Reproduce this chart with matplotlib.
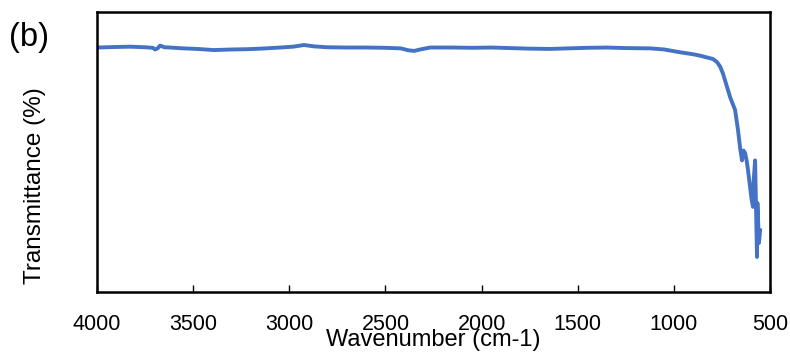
import matplotlib
matplotlib.use('Agg')
import matplotlib.pyplot as plt

plt.rcParams['font.family'] = ['Liberation Sans', 'DejaVu Sans']

# FTIR spectrum (wavenumber in cm-1, transmittance in arbitrary %)
wavenumber = [4000, 3900, 3828, 3750, 3710, 3698, 3685, 3672, 3650, 3620,
              3550, 3480, 3392, 3300, 3220, 3150, 3048, 2980, 2924, 2870,
              2804, 2700, 2600, 2500, 2420, 2380, 2350, 2320, 2268, 2150,
              2050, 1950, 1850, 1750, 1644, 1550, 1450, 1348, 1250, 1124,
              1050, 968, 900, 864, 797, 776, 760, 745, 708, 682,
              667, 655, 646, 638, 630, 622, 615, 604, 596, 589,
              585, 578, 573, 568, 566, 562, 558, 552]
transmittance = [87.3, 87.5, 87.6, 87.4, 87.2, 86.6, 87.0, 88.0, 87.4, 87.3,
                 87.0, 86.8, 86.4, 86.6, 86.7, 86.9, 87.3, 87.6, 88.2, 87.7,
                 87.4, 87.3, 87.3, 87.2, 87.0, 86.3, 86.1, 86.6, 87.3, 87.3,
                 87.2, 87.3, 87.1, 86.9, 86.8, 87.0, 87.2, 87.3, 87.1, 87.0,
                 86.6, 85.6, 84.9, 84.4, 83.2, 82.1, 80.5, 78.0, 69.6, 65.0,
                 57.9, 51.0, 47.0, 50.5, 49.6, 47.0, 43.6, 37.5, 33.0, 30.4,
                 40.0, 47.0, 30.0, 12.5, 31.8, 25.0, 17.5, 22.0]
xticks = [4000, 3500, 3000, 2500, 2000, 1500, 1000, 500]

fig = plt.figure(figsize=(7.9, 3.52), dpi=100)
ax = fig.add_axes([0.1228, 0.1705, 0.852, 0.7955])
ax.plot(wavenumber, transmittance, color='#4472C4', lw=2.8, solid_joinstyle='round')

ax.set_xlim(4000, 500)
ax.set_ylim(0, 100)
ax.set_xticks(xticks)
ax.set_xticklabels([str(t) for t in xticks], fontsize=15.5)
ax.set_yticks([])
ax.tick_params(axis='x', direction='in', length=5, width=1, pad=16)
for s in ax.spines.values():
    s.set_linewidth(1.8)

ax.set_xlabel('Wavenumber (cm-1)', fontsize=17)
ax.xaxis.set_label_coords(0.5, -0.212)
ax.xaxis.label.set_va('bottom')
ax.set_ylabel('Transmittance (%)', fontsize=17.5)
ax.yaxis.set_label_coords(-0.076, 0.38)
fig.text(0.012, 0.87, '(b)', fontsize=23.5)

fig.savefig('out.png', dpi=100)
